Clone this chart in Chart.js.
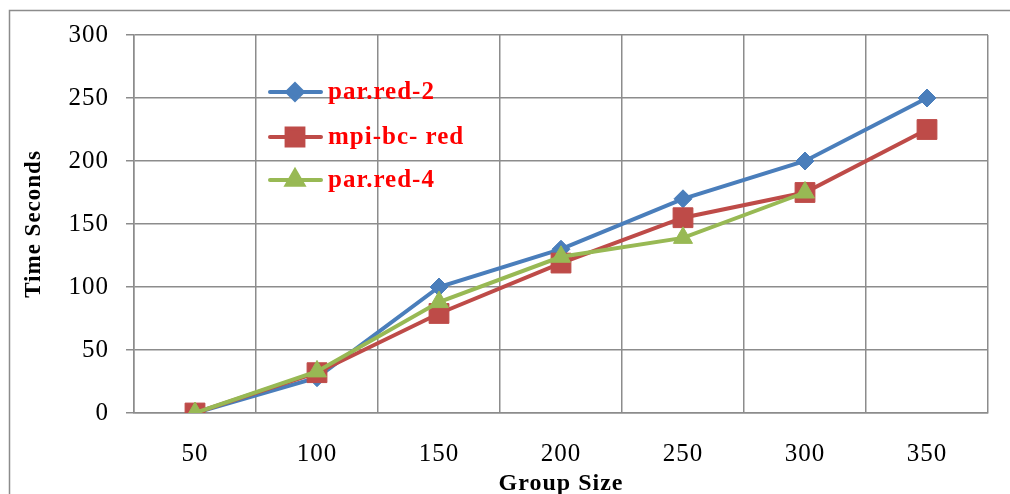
<!DOCTYPE html>
<html>
<head>
<meta charset="utf-8">
<script src="https://cdn.jsdelivr.net/npm/chart.js@4"></script>
<style>
  html, body { margin: 0; padding: 0; background: #fff; overflow: hidden; }
  #chart { display: block; }
</style>
</head>
<body>
<canvas id="chart" width="1010" height="520"></canvas>
<script>
const groupSizes = ['50', '100', '150', '200', '250', '300', '350'];
const parRed2 = [0, 28, 100, 130, 170, 200, 250];
const mpiBcRed = [0, 32, 79, 119, 155, 175, 225];
const parRed4 = [0, 33, 88, 124, 139, 175, null];
const yTicks = [0, 50, 100, 150, 200, 250, 300];

const serif = "'Liberation Serif', 'Times New Roman', serif";
const gridColor = '#8c8c8c';

// outer frame of the picture (cut at right and bottom like the source)
const framePlugin = {
  id: 'frame',
  beforeDraw(chart) {
    const ctx = chart.ctx;
    ctx.letterSpacing = '1px';
    ctx.save();
    ctx.strokeStyle = gridColor;
    ctx.lineWidth = 1.5;
    ctx.strokeRect(9.5, 10.5, 1200, 1000);
    ctx.restore();
  }
};

// legend sitting inside the plot area
const innerLegend = {
  id: 'innerLegend',
  afterDatasetsDraw(chart) {
    const ctx = chart.ctx;
    const rows = [92, 137, 180];
    chart.data.datasets.forEach((ds, i) => {
      const y = rows[i];
      ctx.save();
      ctx.strokeStyle = ds.borderColor;
      ctx.lineWidth = 4;
      ctx.lineCap = 'round';
      ctx.beginPath();
      ctx.moveTo(270, y);
      ctx.lineTo(321, y);
      ctx.stroke();
      ctx.fillStyle = ds.pointBackgroundColor;
      ctx.strokeStyle = ds.pointBackgroundColor;
      Chart.helpers.drawPoint(ctx, {
        pointStyle: ds.pointStyle,
        radius: ds.pointRadius * 0.85,
        rotation: 0,
        borderWidth: 1
      }, 295, y);
      ctx.font = 'bold 25px ' + serif;
      ctx.fillStyle = '#ff0000';
      ctx.textBaseline = 'middle';
      ctx.textAlign = 'left';
      ctx.fillText(ds.label, 328, y + 1);
      ctx.restore();
    });
  }
};

const makeSet = (label, values, color, style, radius, order) => ({
  label,
  data: values,
  borderColor: color,
  backgroundColor: color,
  pointBackgroundColor: color,
  pointBorderColor: color,
  pointStyle: style,
  pointRadius: radius,
  pointHoverRadius: radius,
  pointBorderWidth: 1,
  borderWidth: 4,
  tension: 0,
  fill: false,
  spanGaps: false,
  order
});

new Chart(document.getElementById('chart'), {
  type: 'line',
  data: {
    labels: groupSizes,
    datasets: [
      makeSet('par.red-2', parRed2, '#4a7ebb', 'rectRot', 9, 3),
      makeSet('mpi-bc- red', mpiBcRed, '#be4b48', 'rect', 14, 2),
      makeSet('par.red-4', parRed4, '#98b954', 'triangle', 11, 1)
    ]
  },
  options: {
    responsive: false,
    animation: false,
    events: [],
    layout: { padding: { left: 0, top: 35, right: 22, bottom: 0 } },
    plugins: {
      legend: { display: false },
      tooltip: { enabled: false }
    },
    scales: {
      x: {
        type: 'category',
        offset: true,
        afterFit(scale) { scale.height = 520 - 413; },
        grid: {
          offset: true,
          color: gridColor,
          lineWidth: 1.5,
          drawTicks: false
        },
        border: { color: gridColor, width: 1.5 },
        ticks: {
          color: '#000',
          padding: 26,
          maxRotation: 0,
          font: { family: serif, size: 25 }
        },
        title: {
          display: true,
          text: 'Group Size',
          color: '#000',
          padding: { top: 0, bottom: 22 },
          font: { family: serif, size: 24, weight: 'bold' }
        }
      },
      y: {
        min: 0,
        max: 300,
        afterFit(scale) { scale.width = 134; },
        afterBuildTicks(scale) { scale.ticks = yTicks.map(v => ({ value: v })); },
        grid: {
          color: gridColor,
          lineWidth: 1.5,
          tickLength: 8
        },
        border: { color: gridColor, width: 1.5 },
        ticks: {
          color: '#000',
          padding: 17,
          font: { family: serif, size: 25 }
        },
        title: {
          display: true,
          text: 'Time Seconds',
          color: '#000',
          padding: { top: 20, bottom: 0 },
          font: { family: serif, size: 23, weight: 'bold' }
        }
      }
    }
  },
  plugins: [framePlugin, innerLegend]
});
</script>
</body>
</html>
